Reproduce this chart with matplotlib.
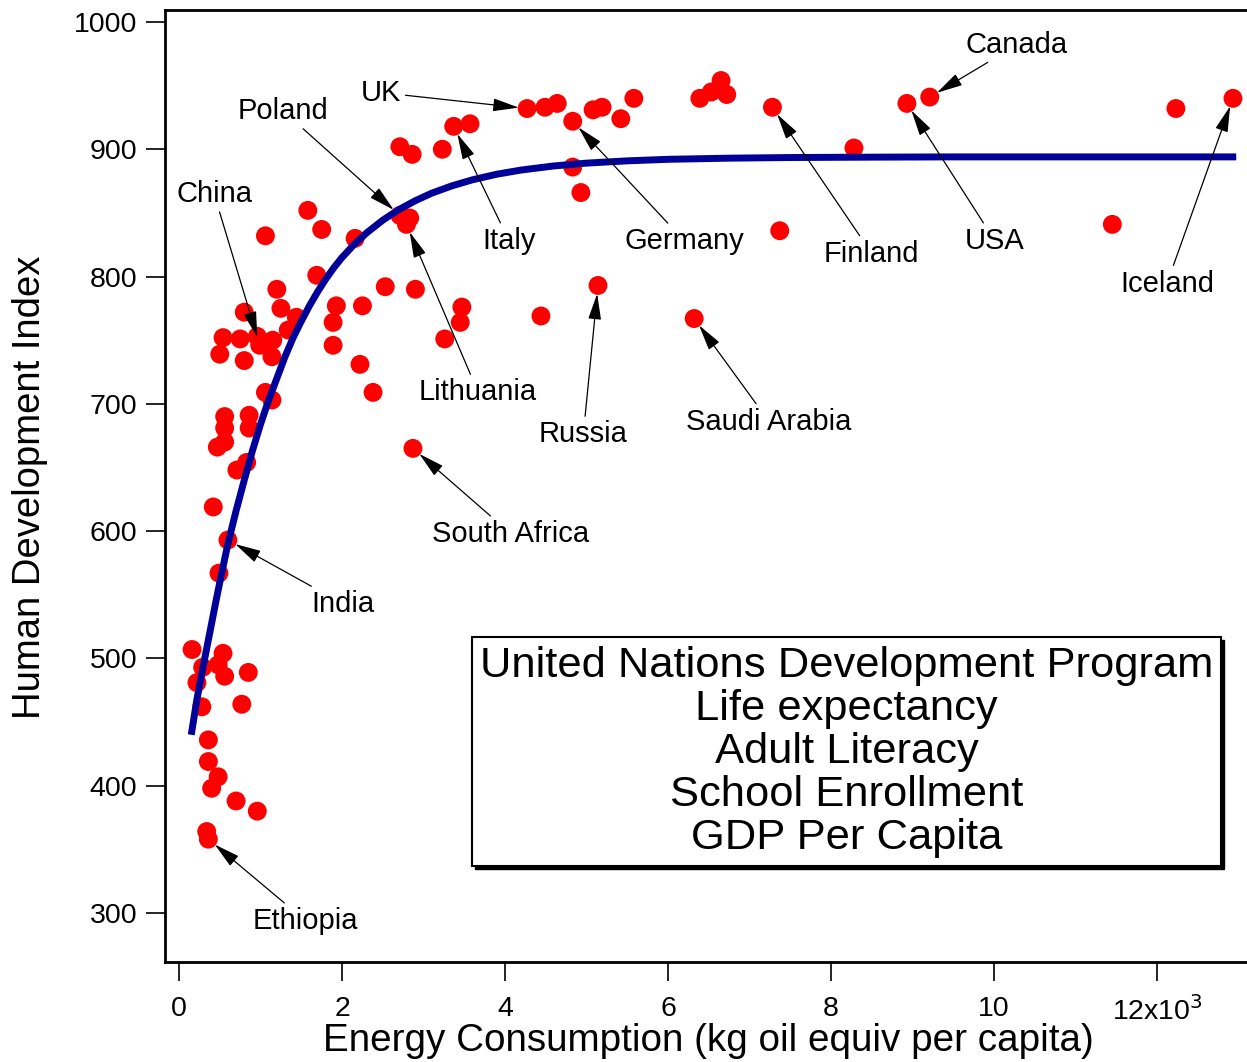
import matplotlib
matplotlib.use('Agg')
import matplotlib.pyplot as plt
from matplotlib.patches import Rectangle

plt.rcParams['font.family'] = ['Liberation Sans', 'DejaVu Sans']

# ---- data (energy in thousands of kg oil equiv per capita, HDI x1000) ----
energy = [0.16, 0.54, 0.29, 0.48, 0.56, 0.85, 0.22, 0.28, 0.77, 0.36, 0.36, 0.48,
          0.40, 0.70, 0.96, 0.34, 0.42, 0.49, 0.47, 0.56, 0.71, 0.83, 0.56, 0.86,
          0.56, 0.86, 1.06, 1.14, 0.50, 0.80, 0.54, 0.75, 0.96, 1.15, 1.34, 1.14,
          0.80, 1.25, 1.44, 1.20, 1.06, 1.69, 1.58, 1.75, 2.16, 1.93, 2.25, 2.53,
          2.90, 1.89, 1.89, 2.22, 2.38, 3.26, 3.45, 3.47, 4.44, 2.83, 2.71, 2.86,
          3.23, 3.57, 4.49, 4.64, 5.08, 5.19, 5.42, 5.58, 4.83, 4.93, 6.39, 6.53,
          6.65, 6.72, 8.28, 7.37, 11.45, 12.23]
hdi = [507, 504, 493, 495, 486, 489, 481, 462, 464, 436, 419, 407,
       398, 388, 380, 364, 619, 567, 666, 670, 648, 654, 690, 691,
       681, 681, 709, 703, 739, 734, 752, 751, 753, 750, 758, 737,
       772, 775, 768, 790, 832, 801, 852, 837, 830, 777, 777, 792,
       790, 764, 746, 731, 709, 751, 764, 776, 769, 846, 902, 896,
       900, 920, 933, 936, 931, 933, 924, 940, 886, 866, 940, 945,
       954, 943, 901, 836, 841, 932]

countries = ['Canada', 'UK', 'Poland', 'China', 'Italy', 'Germany', 'Finland', 'USA',
             'Iceland', 'Lithuania', 'Russia', 'Saudi Arabia', 'South Africa',
             'India', 'Ethiopia']
country_energy = [9.21, 4.27, 2.71, 0.99, 3.37, 4.83, 7.28, 8.93,
                  12.93, 2.79, 5.14, 6.32, 2.87, 0.60, 0.36]
country_hdi = [941, 932, 848, 746, 918, 922, 933, 936,
               940, 841, 793, 767, 665, 593, 358]

# fitted trend line
fit_energy = [0.15, 0.22, 0.30, 0.38, 0.45, 0.52, 0.60, 0.70, 0.80, 0.90, 1.00, 1.10,
              1.20, 1.30, 1.40, 1.50, 1.60, 1.70, 1.80, 1.90, 2.00, 2.15, 2.30, 2.50,
              2.70, 2.90, 3.10, 3.35, 3.60, 3.90, 4.20, 4.60, 5.00, 5.50, 6.00, 6.75,
              7.50, 8.50, 9.50, 11.00, 12.97]
fit_hdi = [440, 468, 495, 521, 544, 566, 590, 616, 640, 663, 684, 703,
           720, 737, 752, 765, 777, 788, 798, 807, 815, 825.3, 834.2, 844.3,
           852.7, 859.6, 865.5, 871.3, 876.0, 880.4, 883.7, 886.9, 889.1, 890.9, 892.1, 893.0,
           893.5, 893.8, 894, 894, 894]

xtick_vals = [0, 2, 4, 6, 8, 10, 12]
xtick_labels = ['0', '2', '4', '6', '8', '10', '12x10$^3$']
ytick_vals = [300, 400, 500, 600, 700, 800, 900, 1000]

legend_lines = ['United Nations Development Program', 'Life expectancy',
                'Adult Literacy', 'School Enrollment', 'GDP Per Capita']

# label text positions (layout)
label_pos = {
    'Canada': (10.28, 982), 'UK': (2.48, 944.5), 'Poland': (1.28, 930),
    'China': (0.43, 865), 'Italy': (4.05, 828), 'Germany': (6.20, 828),
    'Finland': (8.50, 818), 'USA': (10.01, 828), 'Iceland': (12.12, 794.5),
    'Lithuania': (3.67, 709), 'Russia': (4.96, 676), 'Saudi Arabia': (7.24, 686),
    'South Africa': (4.07, 598), 'India': (2.01, 543), 'Ethiopia': (1.55, 294),
}

W, H = 1247, 1062
fig = plt.figure(figsize=(W / 100, H / 100), dpi=100)
ax = fig.add_axes([165 / W, (H - 962) / H, 1081 / W, 952 / H])

ax.set_xlim(-0.172, 13.09)
ax.set_ylim(261.5, 1009.4)

red = '#ff0000'
ax.scatter(energy, hdi, s=185, color=red, edgecolors='none', zorder=3)
ax.scatter(country_energy, country_hdi, s=185, color=red, edgecolors='none', zorder=3)
ax.plot(fit_energy, fit_hdi, color='#000099', lw=5, solid_capstyle='butt',
        solid_joinstyle='round', zorder=4)

for name, cx, cy in zip(countries, country_energy, country_hdi):
    tx, ty = label_pos[name]
    ax.annotate(name, xy=(cx, cy), xytext=(tx, ty), ha='center', va='center',
                fontsize=21, color='black', zorder=6,
                arrowprops=dict(arrowstyle='-|>,head_length=0.8,head_width=0.2',
                                mutation_scale=20, color='black', lw=0.9,
                                shrinkA=1, shrinkB=6))

# legend-like box with drop shadow
bx0, bx1 = 3.595, 12.785
by0, by1 = 336.9, 516.9
dx, dy = 3 / 81.5, 3 / 1.2729
ax.add_patch(Rectangle((bx0 + dx, by0 - dy), bx1 - bx0, by1 - by0,
                       facecolor='black', edgecolor='black', lw=1, zorder=7))
ax.add_patch(Rectangle((bx0, by0), bx1 - bx0, by1 - by0,
                       facecolor='white', edgecolor='black', lw=1.5, zorder=8))
line_y = [494.0, 460.2, 426.5, 392.7, 358.9]
for txt, ly in zip(legend_lines, line_y):
    ax.text((bx0 + bx1) / 2, ly, txt, ha='center', va='center',
            fontsize=31.3, zorder=9)

ax.set_xticks(xtick_vals)
ax.set_xticklabels(xtick_labels)
ax.set_yticks(ytick_vals)
ax.tick_params(axis='both', direction='out', length=14, width=1.2, labelsize=20.5,
               colors='black')
ax.tick_params(axis='y', pad=6)
ax.tick_params(axis='x', pad=10.5)

for side in ['left', 'bottom', 'top']:
    ax.spines[side].set_linewidth(2)
ax.spines['right'].set_visible(False)

fig.text(30 / W, 1 - 487 / H, 'Human Development Index', rotation=90,
         ha='center', va='center', fontsize=27.5)
fig.text(708 / W, 1 - 1041 / H, 'Energy Consumption (kg oil equiv per capita)',
         ha='center', va='center', fontsize=27.8)

fig.savefig('out.png', dpi=100, facecolor='white')
